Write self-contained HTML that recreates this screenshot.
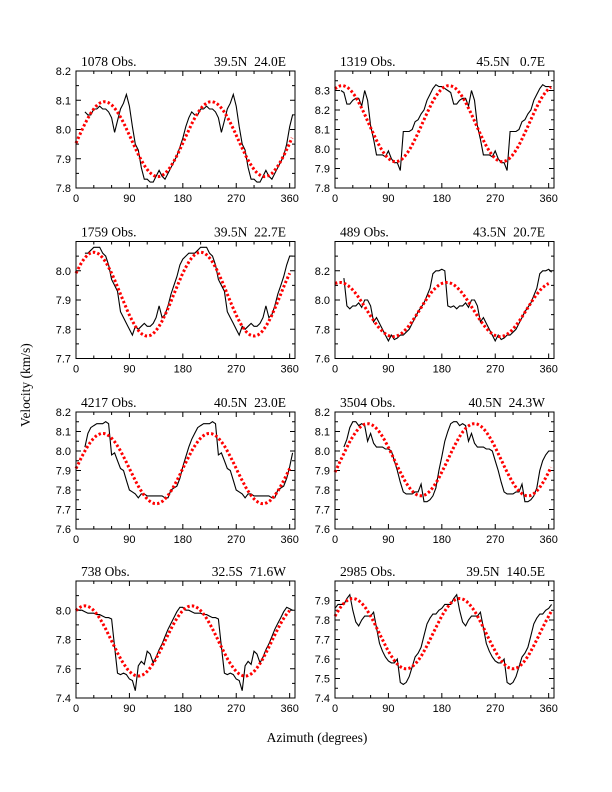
<!DOCTYPE html>
<html><head><meta charset="utf-8"><style>
html,body{margin:0;padding:0;background:#fff;}
svg{display:block;}
.tl{font-family:"Liberation Sans",sans-serif;font-size:11px;fill:#000;}
.tt{font-family:"Liberation Serif",serif;font-size:13.5px;fill:#000;white-space:pre;}
</style></head><body>
<svg id="chart" width="612" height="792" viewBox="0 0 612 792" xmlns="http://www.w3.org/2000/svg">
<text class="tt" x="30" y="385" text-anchor="middle" transform="rotate(-90 30 385)">Velocity (km/s)</text>
<text class="tt" x="317" y="742" text-anchor="middle">Azimuth (degrees)</text>
</svg>
<script>
const obsLabels=["1078 Obs.","1319 Obs.","1759 Obs.","489 Obs.","4217 Obs.","3504 Obs.","738 Obs.","2985 Obs."];
const locLabels=["39.5N  24.0E","45.5N   0.7E","39.5N  22.7E","43.5N  20.7E","40.5N  23.0E","40.5N  24.3W","32.5S  71.6W","39.5N  140.5E"];
const yMins=[7.8,7.8,7.7,7.6,7.6,7.6,7.4,7.4];
const yMaxs=[8.2,8.4,8.1,8.4,8.2,8.2,8.2,8.0];
const yTickLabels=[["7.8","7.9","8.0","8.1","8.2"],["7.8","7.9","8.0","8.1","8.2","8.3"],["7.7","7.8","7.9","8.0"],["7.6","7.8","8.0","8.2"],["7.6","7.7","7.8","7.9","8.0","8.1","8.2"],["7.6","7.7","7.8","7.9","8.0","8.1","8.2"],["7.4","7.6","7.8","8.0"],["7.4","7.5","7.6","7.7","7.8","7.9"]];
const xTickLabels=["0","90","180","270","360"];
const azStep=5;
const fitMean=[7.967,8.13,7.92,7.935,7.91,7.955,7.79,7.73];
const fitAmp=[0.128,0.195,0.143,0.185,0.18,0.185,0.24,0.18];
const fitPeak=[48,12,30,8,45,55,15,30];
const fitEnd=[365,365,360,360,360,365,360,365];
const obs1=[null,null,null,8.06,8.05,8.05,8.07,8.07,8.08,8.07,8.07,8.06,8.04,7.99,8.03,8.07,8.09,8.12,8.08,8.01,7.95,7.93,7.87,7.83,7.83,7.82,7.82,7.84,7.86,7.84,7.83,7.85,7.87,7.89,7.91,7.94,7.97,8.01,8.04,8.06,8.05,8.05,8.07,8.07,8.08,8.07,8.07,8.06,8.04,7.99,8.03,8.07,8.09,8.12,8.08,8.01,7.95,7.93,7.87,7.83,7.83,7.82,7.82,7.84,7.86,7.84,7.83,7.85,7.87,7.89,7.91,7.95,8.01,8.05];
const obs2=[null,null,8.30,8.29,8.23,8.23,8.25,8.26,8.26,8.22,8.30,8.25,8.12,8.05,7.97,7.97,7.97,7.96,7.99,7.95,7.93,7.93,7.89,8.09,8.09,8.09,8.10,8.14,8.15,8.18,8.20,8.25,8.28,8.31,8.33,8.32,8.32,8.31,8.30,8.29,8.23,8.23,8.25,8.26,8.26,8.22,8.30,8.25,8.12,8.05,7.97,7.97,7.97,7.96,7.99,7.95,7.93,7.93,7.89,8.09,8.09,8.09,8.10,8.14,8.15,8.18,8.20,8.25,8.28,8.31,8.33,8.32,8.32,8.32];
const obs3=[null,null,null,8.06,8.06,8.07,8.08,8.08,8.08,8.06,8.05,8.02,7.97,7.95,7.93,7.86,7.84,7.82,7.80,7.78,7.81,7.80,7.81,7.82,7.81,7.81,7.82,7.84,7.88,7.84,7.85,7.88,7.92,7.95,7.98,8.02,8.04,8.05,8.06,8.06,8.06,8.07,8.08,8.08,8.08,8.06,8.05,8.02,7.97,7.95,7.93,7.86,7.84,7.82,7.80,7.78,7.81,7.80,7.81,7.82,7.81,7.81,7.82,7.84,7.88,7.84,7.85,7.88,7.92,7.95,7.98,8.02,8.05,8.05];
const obs4=[null,null,null,8.15,7.96,7.94,7.96,7.96,7.98,7.95,8.00,8.00,7.96,7.85,7.88,7.84,7.80,7.76,7.72,7.76,7.73,7.74,7.76,7.76,7.78,7.80,7.84,7.88,7.92,7.95,7.98,8.03,8.08,8.18,8.20,8.20,8.21,8.20,7.96,7.95,7.96,7.94,7.96,7.96,7.98,7.95,8.00,8.00,7.96,7.85,7.88,7.84,7.80,7.76,7.72,7.76,7.73,7.74,7.76,7.76,7.78,7.80,7.84,7.88,7.92,7.95,7.98,8.03,8.08,8.18,8.20,8.20,8.21,8.19];
const obs5=[null,null,null,8.02,8.09,8.12,8.13,8.14,8.14,8.14,8.15,8.14,7.98,7.99,7.95,7.91,7.90,7.85,7.80,7.79,7.78,7.76,7.78,7.78,7.77,7.77,7.77,7.77,7.77,7.77,7.76,7.76,7.80,7.81,7.82,7.86,7.92,7.97,8.02,8.06,8.09,8.12,8.13,8.14,8.14,8.14,8.15,8.14,7.98,7.99,7.95,7.91,7.90,7.85,7.80,7.79,7.78,7.76,7.78,7.78,7.77,7.77,7.77,7.77,7.77,7.77,7.76,7.76,7.80,7.81,7.82,7.86,7.92,7.99];
const obs6=[null,null,null,8.02,8.06,8.12,8.15,8.15,8.13,8.14,8.13,8.05,8.09,8.04,8.02,8.02,8.02,8.01,8.01,8.00,7.95,7.90,7.84,7.79,7.78,7.78,7.78,7.79,7.79,7.83,7.74,7.74,7.75,7.77,7.81,7.90,7.97,8.05,8.10,8.14,8.15,8.15,8.13,8.14,8.13,8.05,8.09,8.04,8.02,8.02,8.02,8.01,8.01,8.00,7.95,7.90,7.84,7.79,7.78,7.78,7.78,7.79,7.79,7.83,7.74,7.74,7.75,7.77,7.81,7.90,7.95,7.98,8.00,8.00];
const obs7=[8.01,8.00,8.00,7.99,7.98,7.98,7.98,7.97,7.97,7.96,7.95,7.95,7.94,7.75,7.57,7.56,7.57,7.56,7.53,7.52,7.45,7.62,7.65,7.63,7.72,7.70,7.64,7.68,7.73,7.77,7.82,7.87,7.91,7.95,7.99,8.02,8.02,8.00,8.00,7.99,7.98,7.98,7.98,7.97,7.97,7.96,7.95,7.95,7.94,7.75,7.57,7.56,7.57,7.56,7.53,7.52,7.45,7.62,7.65,7.63,7.72,7.70,7.64,7.68,7.73,7.77,7.82,7.87,7.91,7.95,7.99,8.02,8.01,8.00];
const obs8=[7.86,7.88,7.88,7.88,7.91,7.93,7.85,7.79,7.77,7.80,7.82,7.82,7.82,7.84,7.76,7.68,7.64,7.61,7.59,7.58,7.58,7.60,7.48,7.47,7.48,7.51,7.56,7.61,7.63,7.66,7.72,7.78,7.81,7.83,7.83,7.85,7.86,7.88,7.88,7.88,7.91,7.93,7.85,7.79,7.77,7.80,7.82,7.82,7.82,7.84,7.76,7.68,7.64,7.61,7.59,7.58,7.58,7.60,7.48,7.47,7.48,7.51,7.56,7.61,7.63,7.66,7.72,7.78,7.81,7.83,7.83,7.85,7.86,7.88];
const observed=[obs1,obs2,obs3,obs4,obs5,obs6,obs7,obs8];

const NS="http://www.w3.org/2000/svg";
const svg=document.getElementById('chart');
const colX=[76,335], rowY=[71,241.5,412,581], W=219, H=117, XMAX=369;
function mk(tag,attrs,parent){const e=document.createElementNS(NS,tag);for(const k in attrs)e.setAttribute(k,attrs[k]);(parent||svg).appendChild(e);return e;}
for(let p=0;p<8;p++){
  const x0=colX[p%2], y0=rowY[Math.floor(p/2)];
  const ymin=yMins[p], ymax=yMaxs[p];
  const sx=a=>x0+a/XMAX*W;
  const sy=v=>y0+H-(v-ymin)/(ymax-ymin)*H;
  const g=mk('g',{});
  
  
  const t1=mk('text',{class:'tt',x:x0+5,y:y0-5},g);t1.textContent=obsLabels[p];
  
  
  const t2=mk('text',{class:'tt',x:x0+W-9,y:y0-5,'text-anchor':'end'},g);t2.textContent=locLabels[p];
  
  
  let d='';
  for(let a=0;a<=XMAX;a+=30){const X=sx(a);const L=(a%90===0)?5:3;d+=`M${X},${y0+H}v-${L}M${X},${y0}v${L}`;}
  const labs=yTickLabels[p];
  const step=(parseFloat(labs[1])-parseFloat(labs[0]));
  for(let v=ymin;v<=ymax+1e-6;v+=step/2){const Y=sy(v);const major=Math.abs(((v-ymin)/step)-Math.round((v-ymin)/step))<1e-3;const L=major?5:3;d+=`M${x0},${Y}h${L}M${x0+W},${Y}h-${L}`;}
  const tk=mk('path',{d:d,stroke:'#000','stroke-width':1,fill:'none'},g);
  
  
  xTickLabels.forEach(s=>{const e=mk('text',{class:'tl',x:sx(parseFloat(s)),y:y0+H+14,'text-anchor':'middle'},g);e.textContent=s;
    
    });
  labs.forEach(s=>{const e=mk('text',{class:'tl',x:x0-5,y:sy(parseFloat(s))+4,'text-anchor':'end'},g);e.textContent=s;
    
    });
  let od='',pen=false;
  observed[p].forEach((v,i)=>{if(v===null){pen=false;return;}const a=Math.min(i*azStep,XMAX);od+=(pen?'L':'M')+sx(a).toFixed(1)+','+sy(v).toFixed(1);pen=true;});
  const ol=mk('path',{d:od,stroke:'#000','stroke-width':1.1,fill:'none'},g);
  
  
  let fd='';
  for(let a=0;a<=fitEnd[p];a+=2){const v=fitMean[p]+fitAmp[p]*Math.cos(2*(a-fitPeak[p])*Math.PI/180);fd+=(a?'L':'M')+sx(a).toFixed(1)+','+sy(v).toFixed(1);}
  const fl=mk('path',{d:fd,stroke:'#ff0000','stroke-width':3,fill:'none','stroke-dasharray':'2.4 2.2'},g);
  
  
  const box=mk('rect',{x:x0,y:y0,width:W,height:H,fill:'none',stroke:'#000','stroke-width':1},g);
  
  
}
</script>
</body></html>
